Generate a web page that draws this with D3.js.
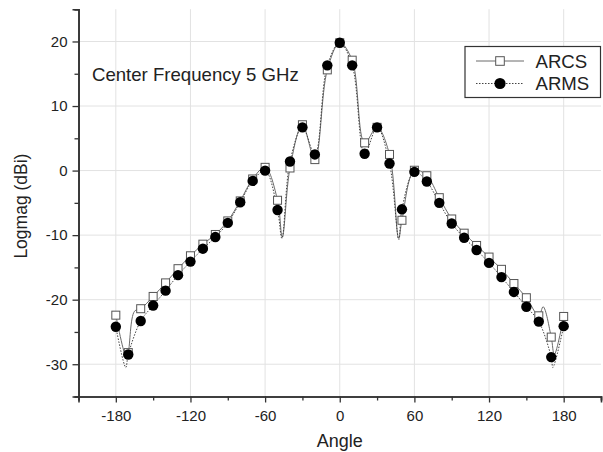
<!DOCTYPE html>
<html>
<head>
<meta charset="utf-8">
<script src="https://cdn.jsdelivr.net/npm/d3@7/dist/d3.min.js"></script>
<style>
  html, body { margin: 0; padding: 0; background: #fff; }
  svg { display: block; }
  text { font-family: "Liberation Sans", Arial, sans-serif; fill: #222; }
</style>
</head>
<body>
<div id="chart"></div>
<script>
// ---- data ----
const angles = [-180,-170,-160,-150,-140,-130,-120,-110,-100,-90,-80,-70,-60,-50,-40,-30,-20,-10,0,
                10,20,30,40,50,60,70,80,90,100,110,120,130,140,150,160,170,180];
const arcs = [-22.4,-28.2,-21.4,-19.5,-17.4,-15.2,-13.2,-11.4,-9.9,-7.8,-4.7,-1.3,0.5,-4.6,0.4,7.1,1.7,15.6,19.8,
              17.1,4.3,6.7,2.5,-7.7,0.05,-0.8,-4.2,-7.5,-9.7,-11.6,-13.4,-15.3,-17.5,-19.7,-22.5,-25.8,-22.6];
const arms = [-24.2,-28.5,-23.3,-20.9,-18.6,-16.2,-14.1,-12.1,-10.3,-8.1,-4.9,-1.6,0.0,-6.1,1.4,6.7,2.5,16.3,19.8,
              16.3,2.6,6.7,1.1,-6.0,-0.2,-1.7,-5.0,-8.2,-10.4,-12.3,-14.3,-16.5,-18.8,-21.1,-23.4,-28.9,-24.1];
// extra curve points (nulls / side bumps visible on the traced lines)
const arcsCurveAngles = [-171.5,-165,-46.2,47.3,163.5,172.5];
const arcsCurveValues = [-29.0,-21.8,-10.3,-10.5,-21.1,-28.5];
const armsCurveAngles = [-172,-46.5,47.5,171.3];
const armsCurveValues = [-30.5,-10.5,-10.7,-30.5];
const xTicks = [-180,-120,-60,0,60,120,180];
const xMinorTicks = [-210,-150,-90,-30,30,90,150,210];
const yTicks = [-30,-20,-10,0,10,20];
const yMinorTicks = [-35,-25,-15,-5,5,15,25];
const seriesNames = ["ARCS","ARMS"];
const annotation = "Center Frequency 5 GHz";

// ---- drawing ----
const W = 603, H = 452;
const svg = d3.select("#chart").append("svg").attr("width", W).attr("height", H);

const x = d3.scaleLinear().domain([-210, 210]).range([78.5, 601]);
const y = d3.scaleLinear().domain([-35, 25]).range([396.5, 9.2]);

// grid
const grid = svg.append("g");
grid.selectAll("line.v").data(xTicks).join("line")
  .attr("x1", d => x(d)).attr("x2", d => x(d))
  .attr("y1", y(25)).attr("y2", y(-35))
  .attr("stroke", "#e2e2e2").attr("stroke-width", 1);
grid.selectAll("line.h").data(yTicks).join("line")
  .attr("y1", d => y(d)).attr("y2", d => y(d))
  .attr("x1", x(-210)).attr("x2", x(210))
  .attr("stroke", "#e2e2e2").attr("stroke-width", 1);

// axes
const axisColor = "#333";
const fmt = d => String(d);
const xAxis = svg.append("g").attr("transform", `translate(0,${y(-35)})`)
  .call(d3.axisBottom(x).tickValues(xTicks).tickSize(6).tickPadding(8).tickFormat(fmt));
const xMinor = svg.append("g").attr("transform", `translate(0,${y(-35)})`)
  .call(d3.axisBottom(x).tickValues(xMinorTicks).tickSize(4).tickFormat(""));
const yAxis = svg.append("g").attr("transform", `translate(${x(-210)},0)`)
  .call(d3.axisLeft(y).tickValues(yTicks).tickSize(6).tickPadding(5).tickFormat(fmt));
const yMinor = svg.append("g").attr("transform", `translate(${x(-210)},0)`)
  .call(d3.axisLeft(y).tickValues(yMinorTicks).tickSize(4).tickFormat(""));
[xAxis, xMinor, yAxis, yMinor].forEach(g => {
  g.select(".domain").attr("stroke", axisColor).attr("stroke-width", 1.6);
  g.selectAll(".tick line").attr("stroke", axisColor).attr("stroke-width", 1.3);
  g.selectAll(".tick text").attr("font-size", 15).attr("fill", "#222")
    .attr("font-family", "'Liberation Sans', Arial, sans-serif");
});

// axis titles
svg.append("text").attr("x", x(0)).attr("y", 447).attr("text-anchor", "middle")
  .attr("font-size", 18).text("Angle");
svg.append("text").attr("transform", `translate(27,${y(-5.5)}) rotate(-90)`)
  .attr("text-anchor", "middle").attr("font-size", 17.5).text("Logmag (dBi)");

// annotation
svg.append("text").attr("x", 92).attr("y", 81).attr("font-size", 18.6).text(annotation);

// series tables
const arcsPts = angles.map((a, i) => ({a, v: arcs[i]}));
const armsPts = angles.map((a, i) => ({a, v: arms[i]}));
const arcsCurve = arcsPts.concat(arcsCurveAngles.map((a, i) => ({a, v: arcsCurveValues[i]})))
  .sort((p, q) => p.a - q.a);
const armsCurve = armsPts.concat(armsCurveAngles.map((a, i) => ({a, v: armsCurveValues[i]})))
  .sort((p, q) => p.a - q.a);

const line = d3.line().x(d => x(d.a)).y(d => y(d.v)).curve(d3.curveCatmullRom.alpha(0.5));

svg.append("path").datum(arcsCurve).attr("d", line)
  .attr("fill", "none").attr("stroke", "#6a6a6a").attr("stroke-width", 1);
svg.append("path").datum(armsCurve).attr("d", line)
  .attr("fill", "none").attr("stroke", "#444").attr("stroke-width", 1).attr("stroke-dasharray", "1.5,1.5");

const sq = 8;
svg.append("g").selectAll("rect").data(arcsPts).join("rect")
  .attr("x", d => x(d.a) - sq / 2).attr("y", d => y(d.v) - sq / 2)
  .attr("width", sq).attr("height", sq)
  .attr("fill", "#fff").attr("stroke", "#555").attr("stroke-width", 1);
svg.append("g").selectAll("circle").data(armsPts).join("circle")
  .attr("cx", d => x(d.a)).attr("cy", d => y(d.v)).attr("r", 5.2)
  .attr("fill", "#000");

// legend
const lg = svg.append("g");
lg.append("rect").attr("x", 465).attr("y", 46.5).attr("width", 135.5).attr("height", 51)
  .attr("fill", "#fff").attr("stroke", "#333").attr("stroke-width", 1.2);
lg.append("line").attr("x1", 476).attr("x2", 524).attr("y1", 61).attr("y2", 61)
  .attr("stroke", "#6a6a6a").attr("stroke-width", 1);
lg.append("rect").attr("x", 500 - 4.3).attr("y", 61 - 4.3).attr("width", 8.6).attr("height", 8.6)
  .attr("fill", "#fff").attr("stroke", "#555").attr("stroke-width", 1);
lg.append("line").attr("x1", 476).attr("x2", 524).attr("y1", 83.5).attr("y2", 83.5)
  .attr("stroke", "#444").attr("stroke-width", 1).attr("stroke-dasharray", "1.5,1.5");
lg.append("circle").attr("cx", 500).attr("cy", 83.5).attr("r", 5.6).attr("fill", "#000");
lg.append("text").attr("x", 535.5).attr("y", 67.5).attr("font-size", 18.6).text(seriesNames[0]);
lg.append("text").attr("x", 535.5).attr("y", 90).attr("font-size", 18.6).text(seriesNames[1]);
</script>
</body>
</html>
